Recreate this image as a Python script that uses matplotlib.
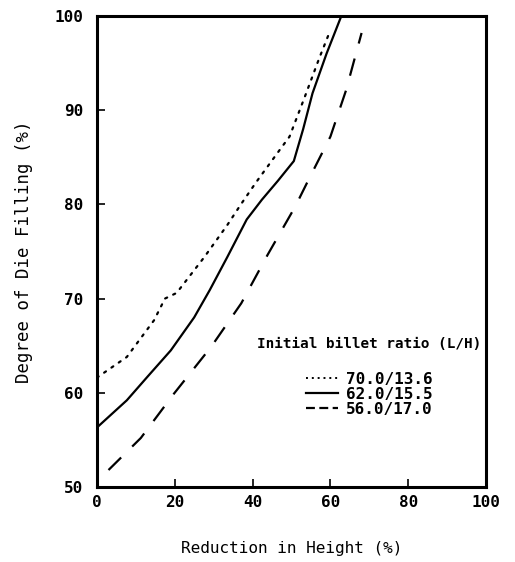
import matplotlib
matplotlib.use("Agg")
import matplotlib.pyplot as plt
from matplotlib.lines import Line2D

# Curves (reduction %, die filling %)
x_70 = [0, 7.7, 14.7, 17.5, 20.5, 27.6, 33.5, 37, 41, 47, 49.5, 53.4, 57.2, 59.8]
y_70 = [61.6, 63.8, 67.7, 70.0, 70.6, 74.4, 77.8, 80.0, 82.4, 85.8, 87.2, 91.4, 95.6, 98.3]

x_62 = [0, 7.7, 13, 19, 25, 29, 33.5, 38.5, 42.4, 46.5, 50.6, 53, 55.4, 59, 62.8]
y_62 = [56.3, 59.2, 61.7, 64.5, 68.0, 70.9, 74.4, 78.4, 80.5, 82.5, 84.6, 88.0, 91.8, 96.0, 100.0]

x_56 = [3, 11.3, 19.8, 29.4, 37.1, 43.8, 51, 54, 60, 64, 68]
y_56 = [51.8, 55.2, 59.9, 64.9, 69.5, 74.6, 79.8, 82.3, 87.2, 92.1, 98.2]

labels = ["70.0/13.6", "62.0/15.5", "56.0/17.0"]
xticks = [0, 20, 40, 60, 80, 100]
yticks = [50, 60, 70, 80, 90, 100]

plt.rcParams["font.family"] = "DejaVu Sans Mono"
plt.rcParams["font.weight"] = "bold"

fig = plt.figure(figsize=(5.15, 5.62), dpi=100)
ax = fig.add_axes([0.188, 0.1335, 0.756, 0.838])

ax.plot(x_70, y_70, color="black", lw=1.6, linestyle=(0, (1, 3)),
        dash_capstyle="round")
ax.plot(x_62, y_62, color="black", lw=1.6, linestyle="-")
ax.plot(x_56, y_56, color="black", lw=1.6, linestyle=(0, (8, 7)))

ax.set_xlim(0, 100)
ax.set_ylim(50, 100)
ax.set_xticks(xticks)
ax.set_yticks(yticks)
ax.tick_params(direction="in", length=6, width=1.2, labelsize=11.5,
               top=False, right=False)
ax.tick_params(axis="y", pad=10)
ax.tick_params(axis="x", pad=6)
for s in ax.spines.values():
    s.set_linewidth(2.2)

ax.set_xlabel("Reduction in Height (%)", fontsize=11.5, labelpad=22)
ax.set_ylabel("Degree of Die Filling (%)", fontsize=12.5, labelpad=15)

handles = [
    Line2D([], [], color="black", lw=1.4, linestyle=(0, (1, 2))),
    Line2D([], [], color="black", lw=1.6, linestyle="-"),
    Line2D([], [], color="black", lw=1.6, linestyle=(0, (4, 2))),
]
leg = ax.legend(handles, labels, title="Initial billet ratio (L/H)",
                loc="center", bbox_to_anchor=(0.7, 0.234), frameon=False,
                fontsize=11.5, title_fontsize=10.3, handlelength=2.0,
                handletextpad=0.5, labelspacing=0.0, borderpad=0)
leg._legend_box.sep = 15

fig.savefig("out.png", dpi=100)
